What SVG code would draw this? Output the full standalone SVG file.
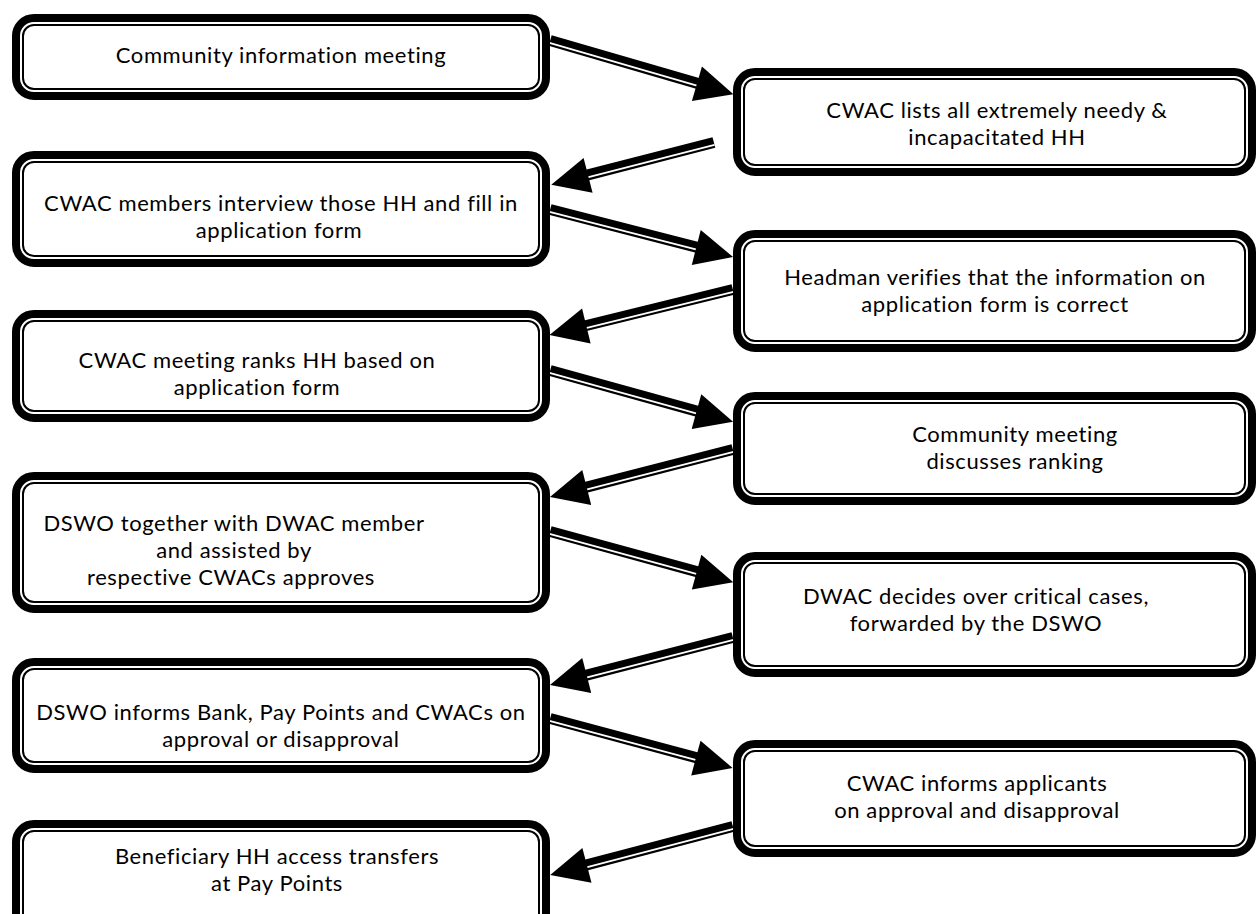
<svg xmlns="http://www.w3.org/2000/svg" width="1258" height="914" viewBox="0 0 1258 914">
<style>
.o{fill:#fff;stroke:#000;stroke-width:8}
.i{fill:none;stroke:#000;stroke-width:2}
.w{fill:#fff}
text{font-family:Lato,"Liberation Sans",sans-serif;font-size:22px;letter-spacing:0.6px;fill:#000;text-anchor:middle}
</style>
<rect width="1258" height="914" fill="#fff"/>
<g id="connectors">
<g transform="translate(550,41) rotate(16.2)"><rect x="0" y="-6" width="158" height="11"/><rect class="w" x="0" y="1" width="158" height="1.8"/><polygon points="191,0 153,-18 153,18"/></g>
<g transform="translate(714,143) rotate(165.6) scale(1,-1)"><rect x="0" y="-6" width="132" height="11"/><rect class="w" x="0" y="1" width="132" height="1.8"/><polygon points="168,0 130,-18 130,18"/></g>
<g transform="translate(550,210) rotate(14.4)"><rect x="0" y="-6" width="153" height="11"/><rect class="w" x="0" y="1" width="153" height="1.8"/><polygon points="189,0 151,-18 151,18"/></g>
<g transform="translate(733,290) rotate(166.2) scale(1,-1)"><rect x="0" y="-6" width="153" height="11"/><rect class="w" x="0" y="1" width="153" height="1.8"/><polygon points="189,0 151,-18 151,18"/></g>
<g transform="translate(550,371) rotate(15.5)"><rect x="0" y="-6" width="154" height="11"/><rect class="w" x="0" y="1" width="154" height="1.8"/><polygon points="190,0 152,-18 152,18"/></g>
<g transform="translate(733,450) rotate(165.6) scale(1,-1)"><rect x="0" y="-6" width="153" height="11"/><rect class="w" x="0" y="1" width="153" height="1.8"/><polygon points="189,0 151,-18 151,18"/></g>
<g transform="translate(550,532) rotate(15.3)"><rect x="0" y="-6" width="154" height="11"/><rect class="w" x="0" y="1" width="154" height="1.8"/><polygon points="190,0 152,-18 152,18"/></g>
<g transform="translate(733,638) rotate(165.6) scale(1,-1)"><rect x="0" y="-6" width="153" height="11"/><rect class="w" x="0" y="1" width="153" height="1.8"/><polygon points="189,0 151,-18 151,18"/></g>
<g transform="translate(550,719) rotate(15)"><rect x="0" y="-6" width="153" height="11"/><rect class="w" x="0" y="1" width="153" height="1.8"/><polygon points="189,0 151,-18 151,18"/></g>
<g transform="translate(733,827) rotate(165.3) scale(1,-1)"><rect x="0" y="-6" width="153" height="11"/><rect class="w" x="0" y="1" width="153" height="1.8"/><polygon points="189,0 151,-18 151,18"/></g>
</g>
<g id="n1"><rect class="o" x="16" y="18" width="530" height="78" rx="18"/><rect class="i" x="23" y="25" width="516" height="64" rx="11"/><text x="281" y="63">Community information meeting</text></g>
<g id="n2"><rect class="o" x="737" y="72" width="515" height="100" rx="18"/><rect class="i" x="744" y="79" width="501" height="86" rx="11"/><text x="997" y="118">CWAC lists all extremely needy &amp;</text><text x="997" y="145">incapacitated HH</text></g>
<g id="n3"><rect class="o" x="16" y="155" width="530" height="108" rx="18"/><rect class="i" x="23" y="162" width="516" height="94" rx="11"/><text x="281" y="211">CWAC members interview those HH and fill in</text><text x="279" y="238">application form</text></g>
<g id="n4"><rect class="o" x="737" y="234" width="515" height="114" rx="18"/><rect class="i" x="744" y="241" width="501" height="100" rx="11"/><text x="995" y="285">Headman verifies that the information on</text><text x="995" y="312">application form is correct</text></g>
<g id="n5"><rect class="o" x="16" y="314" width="530" height="104" rx="18"/><rect class="i" x="23" y="321" width="516" height="90" rx="11"/><text x="257" y="368">CWAC meeting ranks HH based on</text><text x="257" y="395">application form</text></g>
<g id="n6"><rect class="o" x="737" y="396" width="515" height="105" rx="18"/><rect class="i" x="744" y="403" width="501" height="91" rx="11"/><text x="1015" y="442">Community meeting</text><text x="1015" y="469">discusses ranking</text></g>
<g id="n7"><rect class="o" x="16" y="476" width="530" height="133" rx="18"/><rect class="i" x="23" y="483" width="516" height="119" rx="11"/><text x="234" y="531">DSWO together with DWAC member</text><text x="234" y="558">and assisted by</text><text x="231" y="585">respective CWACs approves</text></g>
<g id="n8"><rect class="o" x="737" y="556" width="515" height="117" rx="18"/><rect class="i" x="744" y="563" width="501" height="103" rx="11"/><text x="976" y="604">DWAC decides over critical cases,</text><text x="976" y="631">forwarded by the DSWO</text></g>
<g id="n9"><rect class="o" x="16" y="662" width="530" height="107" rx="18"/><rect class="i" x="23" y="669" width="516" height="93" rx="11"/><text x="281" y="720">DSWO informs Bank, Pay Points and CWACs on</text><text x="281" y="747">approval or disapproval</text></g>
<g id="n10"><rect class="o" x="737" y="744" width="515" height="109" rx="18"/><rect class="i" x="744" y="751" width="501" height="95" rx="11"/><text x="977" y="791">CWAC informs applicants</text><text x="977" y="818">on approval and disapproval</text></g>
<g id="n11"><rect class="o" x="16" y="824" width="530" height="130" rx="18"/><rect class="i" x="23" y="831" width="516" height="116" rx="11"/><text x="277" y="864">Beneficiary HH access transfers</text><text x="277" y="891">at Pay Points</text></g>
</svg>
